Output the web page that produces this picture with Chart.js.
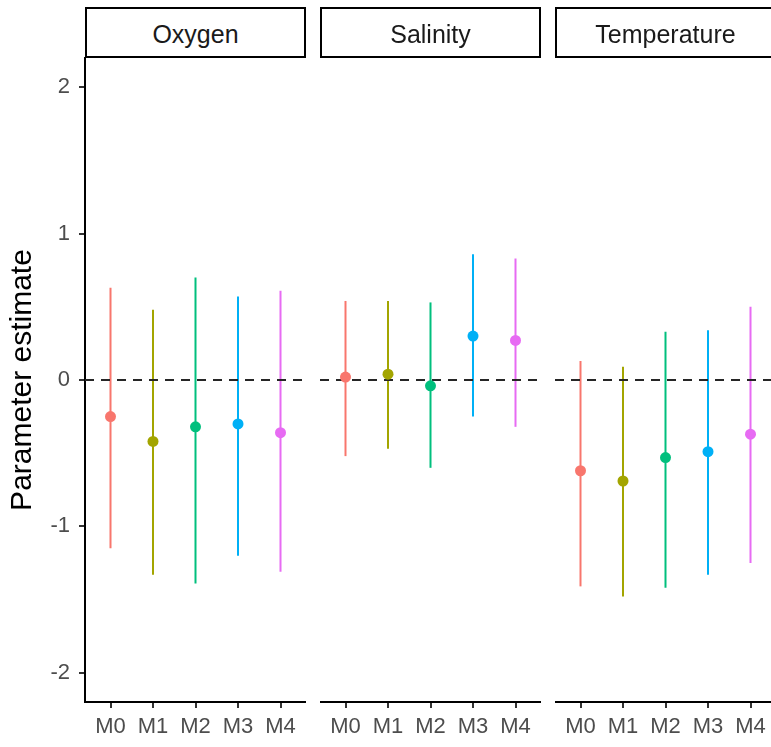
<!DOCTYPE html>
<html>
<head>
<meta charset="utf-8">
<script src="https://cdn.jsdelivr.net/npm/chart.js@4.4.0/dist/chart.umd.min.js"></script>
<style>
  html, body { margin: 0; padding: 0; background: #fff; }
  body { width: 771px; height: 747px; position: relative; overflow: hidden; font-family: "Liberation Sans", Arial, sans-serif; }
  canvas { position: absolute; top: 0; }
  .strip {
    position: absolute; top: 7px; height: 51px; width: 221px; box-sizing: border-box;
    border: 2px solid #000; background: #fff; color: #1a1a1a; font-size: 25px;
    display: flex; align-items: center; justify-content: center; padding-top: 4px;
  }
</style>
</head>
<body>
<canvas id="chart0" width="306" height="747" style="left:0px"></canvas>
<canvas id="chart1" width="221" height="747" style="left:320px"></canvas>
<canvas id="chart2" width="221" height="747" style="left:555px"></canvas>
<div class="strip" style="left:85px">Oxygen</div>
<div class="strip" style="left:320px">Salinity</div>
<div class="strip" style="left:555px">Temperature</div>
<script>
var panels = ['Oxygen', 'Salinity', 'Temperature'];
var models = ['M0', 'M1', 'M2', 'M3', 'M4'];
var yTicks = [-2, -1, 0, 1, 2];
var modelColors = ['#F8766D', '#A3A500', '#00BF7D', '#00B0F6', '#E76BF3'];

var oxygenEst = [-0.25, -0.42, -0.32, -0.30, -0.36];
var oxygenLow = [-1.15, -1.33, -1.39, -1.20, -1.31];
var oxygenHigh = [0.63, 0.48, 0.70, 0.57, 0.61];

var salinityEst = [0.02, 0.04, -0.04, 0.30, 0.27];
var salinityLow = [-0.52, -0.47, -0.60, -0.25, -0.32];
var salinityHigh = [0.54, 0.54, 0.53, 0.86, 0.83];

var temperatureEst = [-0.62, -0.69, -0.53, -0.49, -0.37];
var temperatureLow = [-1.41, -1.48, -1.42, -1.33, -1.25];
var temperatureHigh = [0.13, 0.09, 0.33, 0.34, 0.50];

var panelData = [
  [oxygenEst, oxygenLow, oxygenHigh],
  [salinityEst, salinityLow, salinityHigh],
  [temperatureEst, temperatureLow, temperatureHigh]
];

Chart.defaults.font.family = '"Liberation Sans", Arial, sans-serif';

function makePanel(p) {
  var est = panelData[p][0], low = panelData[p][1], high = panelData[p][2];
  var datasets = [];

  // reference line at zero across the whole panel
  datasets.push({
    type: 'line',
    data: [{x: -0.6, y: 0}, {x: models.length - 0.4, y: 0}],
    borderColor: '#262626',
    borderWidth: 2.2,
    borderDash: [9, 7],
    pointRadius: 0,
    order: 2
  });

  // one vertical range per model
  for (var i = 0; i < models.length; i++) {
    datasets.push({
      type: 'line',
      data: [{x: i, y: low[i]}, {x: i, y: high[i]}],
      borderColor: modelColors[i],
      borderWidth: 2,
      pointRadius: 0,
      order: 3
    });
  }

  datasets.push({
    type: 'scatter',
    data: est.map(function (v, i) { return {x: i, y: v}; }),
    pointBackgroundColor: modelColors,
    pointBorderColor: modelColors,
    pointRadius: 5.5,
    pointBorderWidth: 0,
    order: 1
  });

  var first = p === 0;

  new Chart(document.getElementById('chart' + p), {
    type: 'scatter',
    data: {datasets: datasets},
    options: {
      responsive: false,
      animation: false,
      layout: {autoPadding: false, padding: {top: 58, left: 0, right: 0, bottom: 0}},
      plugins: {legend: {display: false}, tooltip: {enabled: false}},
      scales: {
        x: {
          type: 'linear',
          min: -0.6,
          max: models.length - 0.4,
          afterBuildTicks: function (scale) {
            scale.ticks = models.map(function (m, i) { return {value: i}; });
          },
          afterFit: function (scale) { scale.height = 45; },
          grid: {drawOnChartArea: false, drawTicks: true, tickLength: 6, color: '#333333', lineWidth: 2},
          border: {display: true, color: '#000000', width: 2},
          ticks: {
            autoSkip: false,
            maxRotation: 0,
            padding: 6,
            color: '#4D4D4D',
            font: {size: 22},
            callback: function (value) { return models[value]; }
          }
        },
        y: {
          display: first,
          min: -2.2,
          max: 2.2,
          afterBuildTicks: function (scale) {
            scale.ticks = yTicks.map(function (v) { return {value: v}; });
          },
          afterFit: function (scale) { scale.width = first ? 85 : 0; },
          grid: {drawOnChartArea: false, drawTicks: true, tickLength: 6, color: '#333333', lineWidth: 2},
          border: {display: true, color: '#000000', width: 2},
          ticks: {padding: 9, color: '#4D4D4D', font: {size: 22}},
          title: {
            display: true,
            text: 'Parameter estimate',
            color: '#000000',
            font: {size: 30},
            padding: {top: 5, bottom: 0}
          }
        }
      }
    }
  });
}

for (var p = 0; p < panels.length; p++) {
  makePanel(p);
}
</script>
</body>
</html>
